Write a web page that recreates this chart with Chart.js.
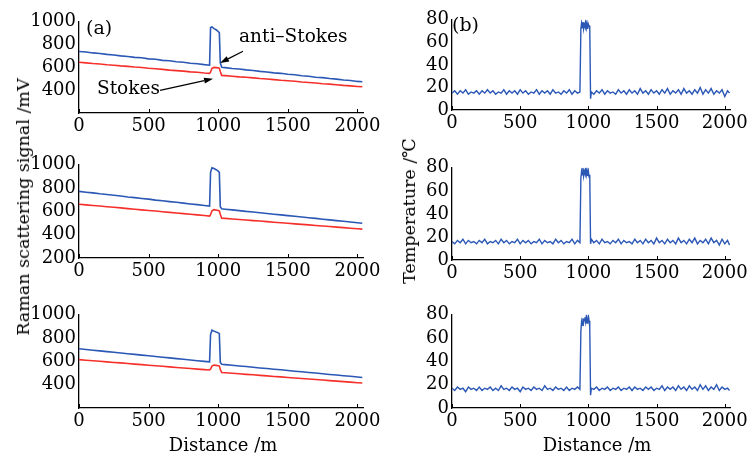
<!DOCTYPE html>
<html>
<head>
<meta charset="utf-8">
<script src="https://cdn.jsdelivr.net/npm/chart.js@4/dist/chart.umd.min.js"></script>
<style>
  html, body { margin: 0; padding: 0; background: #fff; }
  #wrap { position: relative; width: 751px; height: 456px; overflow: hidden; }
  canvas { position: absolute; }
  .lbl { position: absolute; font-family: "DejaVu Serif", serif; font-size: 18px; line-height: 18px; color: #000; white-space: nowrap; }
  .rot { transform: translate(-50%, -50%) rotate(-90deg); }
  .ctr { transform: translate(-50%, -50%); }
</style>
</head>
<body>
<div id="wrap">
  <canvas id="a1" width="385" height="135" style="left:0;top:8px"></canvas>
  <canvas id="a2" width="385" height="137" style="left:0;top:151px"></canvas>
  <canvas id="a3" width="385" height="137" style="left:0;top:301px"></canvas>
  <canvas id="b1" width="371" height="134" style="left:380px;top:6px"></canvas>
  <canvas id="b2" width="371" height="136" style="left:380px;top:154px"></canvas>
  <canvas id="b3" width="371" height="137" style="left:380px;top:301px"></canvas>

  <div class="lbl rot" style="left:23px;top:207px;font-size:17.5px">Raman scattering signal /mV</div>
  <div class="lbl rot" style="left:409px;top:211px;font-size:17.5px">Temperature /℃</div>
  <div class="lbl ctr" style="left:223px;top:445px">Distance /m</div>
  <div class="lbl ctr" style="left:597px;top:445px">Distance /m</div>
  <div class="lbl" style="left:86px;top:18px;font-size:19px">(a)</div>
  <div class="lbl" style="left:452px;top:15px;font-size:19px">(b)</div>
  <div class="lbl" style="left:239px;top:27px;font-size:18.5px">anti–Stokes</div>
  <div class="lbl" style="left:97px;top:79px;font-size:18.5px">Stokes</div>
</div>

<script>
// distance samples (m) for the Raman signal traces
const SIG_X = [0, 50, 100, 150, 200, 250, 300, 350, 400, 450, 500, 550, 600, 650, 700, 750, 800, 850, 900, 938,
  945, 955, 970, 985, 1000, 1008, 1015, 1025,
  1050, 1100, 1150, 1200, 1250, 1300, 1350, 1400, 1450, 1500, 1550, 1600, 1650, 1700, 1750, 1800, 1850, 1900, 1950, 2000, 2035];

// (a) top
const antiStokes1 = [740, 735, 727, 722, 714, 709, 701, 696, 688, 684, 675, 671, 662, 658, 649, 645, 637, 632, 624, 619,
  950, 955, 940, 930, 915, 905, 640, 602,
  598, 591, 586, 578, 573, 565, 560, 552, 548, 540, 535, 527, 523, 514, 510, 502, 497, 489, 485, 477, 474];
const stokes1 = [645, 640, 634, 630, 623, 619, 613, 609, 603, 599, 592, 588, 583, 576, 572, 567, 561, 557, 551, 548,
  558, 592, 600, 598, 596, 592, 565, 530,
  528, 523, 517, 513, 508, 502, 498, 493, 487, 483, 478, 472, 468, 463, 457, 453, 448, 442, 438, 433, 430];

// (a) middle
const antiStokes2 = [772, 765, 759, 751, 745, 738, 732, 724, 718, 711, 705, 697, 691, 684, 678, 671, 664, 658, 651, 645,
  935, 975, 968, 958, 945, 935, 640, 622,
  619, 613, 607, 600, 595, 588, 582, 576, 570, 564, 558, 552, 546, 540, 533, 527, 521, 515, 509, 503, 498];
const stokes2 = [662, 656, 651, 646, 640, 635, 630, 624, 619, 613, 608, 603, 597, 592, 586, 581, 576, 570, 565, 560,
  572, 605, 615, 612, 608, 604, 575, 542,
  540, 535, 531, 526, 521, 517, 512, 507, 503, 498, 493, 489, 484, 479, 475, 470, 465, 461, 456, 451, 448];

// (a) bottom
const antiStokes3 = [708, 702, 696, 690, 684, 678, 672, 666, 660, 654, 648, 642, 636, 630, 624, 618, 612, 606, 600, 596,
  830, 868, 860, 852, 845, 838, 590, 575,
  572, 567, 561, 556, 550, 544, 539, 533, 528, 522, 516, 511, 505, 500, 494, 488, 483, 477, 472, 466, 462];
const stokes3 = [615, 610, 606, 601, 596, 591, 587, 582, 577, 572, 567, 563, 558, 553, 548, 544, 539, 534, 529, 526,
  535, 560, 568, 566, 563, 560, 530, 505,
  503, 498, 494, 489, 485, 480, 476, 471, 467, 462, 458, 453, 449, 444, 440, 435, 431, 426, 422, 417, 414];

// distance samples (m) for the temperature traces
const TEMP_X = [0, 20, 40, 60, 80, 100, 120, 140, 160, 180, 200, 220, 240, 260, 280, 300, 320, 340, 360, 380,
  400, 420, 440, 460, 480, 500, 520, 540, 560, 580, 600, 620, 640, 660, 680, 700, 720, 740, 760, 780,
  800, 820, 840, 860, 880, 900, 920, 938,
  945, 950, 955, 960, 965, 970, 975, 980, 985, 990, 995, 1000, 1005, 1010,
  1016, 1022,
  1040, 1060, 1080, 1100, 1120, 1140, 1160, 1180, 1200, 1220, 1240, 1260, 1280, 1300, 1320, 1340, 1360, 1380, 1400, 1420,
  1440, 1460, 1480, 1500, 1520, 1540, 1560, 1580, 1600, 1620, 1640, 1660, 1680, 1700, 1720, 1740, 1760, 1780, 1800, 1820,
  1840, 1860, 1880, 1900, 1920, 1940, 1960, 1980, 2000, 2020, 2035];

const temp1 = [15, 17, 14, 17, 15, 18, 14, 16, 15, 17, 14, 17, 15, 18, 15, 17, 14, 16, 15, 18,
  14, 17, 15, 17, 14, 18, 15, 17, 14, 16, 15, 18, 14, 17, 15, 17, 14, 18, 15, 16,
  14, 17, 15, 18, 14, 17, 15, 16,
  72, 77, 73, 78, 72, 76, 74, 78, 73, 77, 72, 76, 74, 75,
  10, 16,
  14, 17, 15, 18, 14, 17, 15, 16, 14, 18, 15, 17, 14, 18, 15, 17, 14, 19, 15, 17,
  14, 18, 15, 17, 14, 18, 15, 19, 14, 17, 15, 18, 14, 19, 15, 17, 14, 18, 15, 20,
  14, 18, 15, 19, 14, 17, 15, 18, 12, 17, 15];

const temp2 = [16, 14, 17, 15, 18, 14, 17, 15, 16, 14, 17, 15, 18, 14, 16, 15, 17, 14, 18, 15,
  17, 14, 16, 15, 18, 14, 17, 15, 17, 14, 16, 15, 18, 14, 17, 15, 16, 14, 18, 15,
  17, 14, 16, 15, 18, 14, 17, 15,
  71, 77, 74, 80, 73, 77, 75, 79, 74, 78, 73, 77, 72, 74,
  14, 18,
  15, 17, 14, 18, 15, 16, 14, 17, 15, 18, 14, 17, 15, 16, 14, 18, 15, 17, 14, 18,
  15, 17, 14, 19, 15, 17, 14, 18, 15, 17, 14, 19, 15, 17, 14, 18, 15, 19, 14, 17,
  15, 18, 14, 19, 15, 17, 13, 18, 14, 17, 13];

const temp3 = [17, 15, 18, 16, 17, 14, 18, 16, 17, 15, 18, 15, 17, 16, 18, 15, 17, 15, 19, 16,
  17, 15, 18, 16, 17, 14, 18, 16, 17, 15, 18, 16, 17, 15, 19, 16, 17, 15, 18, 16,
  17, 15, 18, 15, 17, 16, 18, 16,
  66, 74, 71, 77, 73, 76, 78, 74, 79, 73, 76, 79, 75, 70,
  11, 17,
  16, 18, 15, 17, 16, 18, 15, 17, 16, 18, 15, 17, 16, 18, 15, 18, 16, 17, 15, 18,
  16, 18, 15, 17, 16, 19, 15, 18, 16, 18, 15, 19, 16, 18, 15, 19, 16, 18, 15, 20,
  16, 19, 15, 18, 16, 20, 15, 18, 16, 17, 15];

const X_TICKS = [0, 500, 1000, 1500, 2000];
const SIG_TICKS = [200, 400, 600, 800, 1000];
const TEMP_TICKS = [0, 20, 40, 60, 80];

const BLUE = "#2b57b5";
const RED = "#f5302b";

Chart.defaults.font.family = "'DejaVu Serif', serif";
Chart.defaults.font.size = 18;
Chart.defaults.color = "#000";

function pts(xs, ys) {
  return xs.map((x, i) => ({ x: x, y: ys[i] }));
}

const innerTicks = {
  id: "innerTicks",
  afterDatasetsDraw(chart) {
    const { ctx, chartArea } = chart;
    const xs = chart.scales.x;
    ctx.save();
    ctx.strokeStyle = "#000";
    ctx.lineWidth = 1;
    xs.ticks.forEach(t => {
      const px = Math.round(xs.getPixelForValue(t.value)) + 0.5;
      ctx.beginPath();
      ctx.moveTo(px, chartArea.bottom);
      ctx.lineTo(px, chartArea.bottom - 4);
      ctx.stroke();
    });
    ctx.restore();
  }
};

// arrows pointing at the two traces in the top-left panel
const arrows = {
  id: "arrows",
  afterDraw(chart) {
    const { ctx } = chart;
    const xs = chart.scales.x, ys = chart.scales.y;
    const list = [
      [1178, 742, 1013, 639],
      [582, 398, 963, 501]
    ];
    ctx.save();
    ctx.strokeStyle = "#000";
    ctx.fillStyle = "#000";
    ctx.lineWidth = 1.2;
    list.forEach(a => {
      const x0 = xs.getPixelForValue(a[0]), y0 = ys.getPixelForValue(a[1]);
      const x1 = xs.getPixelForValue(a[2]), y1 = ys.getPixelForValue(a[3]);
      const ang = Math.atan2(y1 - y0, x1 - x0);
      const hl = 9, hw = 3;
      const bx = x1 - hl * Math.cos(ang), by = y1 - hl * Math.sin(ang);
      ctx.beginPath();
      ctx.moveTo(x0, y0);
      ctx.lineTo(bx, by);
      ctx.stroke();
      ctx.beginPath();
      ctx.moveTo(x1, y1);
      ctx.lineTo(bx + hw * Math.sin(ang), by - hw * Math.cos(ang));
      ctx.lineTo(bx - hw * Math.sin(ang), by + hw * Math.cos(ang));
      ctx.closePath();
      ctx.fill();
    });
    ctx.restore();
  }
};

function makeChart(id, datasets, yTicks, hideFirst, yWidth, padRight, extra) {
  const plugins = [innerTicks];
  if (extra) plugins.push(extra);
  new Chart(document.getElementById(id), {
    type: "line",
    data: { datasets: datasets },
    options: {
      responsive: false,
      devicePixelRatio: 1,
      animation: false,
      layout: { padding: { top: 12, right: padRight, left: 0, bottom: 0 } },
      plugins: { legend: { display: false }, tooltip: { enabled: false } },
      elements: { point: { radius: 0 }, line: { tension: 0 } },
      scales: {
        x: {
          type: "linear",
          min: 0,
          max: 2040,
          afterBuildTicks: s => { s.ticks = X_TICKS.map(v => ({ value: v })); },
          ticks: { padding: 3, maxRotation: 0, autoSkip: false, includeBounds: false, callback: v => String(v) },
          grid: { display: true, drawOnChartArea: false, drawTicks: false },
          border: { color: "#000", width: 1.3 },
          afterFit: s => { s.height = 30; }
        },
        y: {
          min: yTicks[0],
          max: yTicks[yTicks.length - 1],
          afterBuildTicks: s => { s.ticks = yTicks.map(v => ({ value: v })); },
          ticks: {
            padding: 3,
            autoSkip: false,
            callback: v => (hideFirst && v === yTicks[0]) ? "" : String(v)
          },
          grid: { display: true, drawOnChartArea: false, drawTicks: false },
          border: { color: "#000", width: 1.3 },
          afterFit: s => { s.width = yWidth; }
        }
      }
    },
    plugins: plugins
  });
}

function sigSets(anti, stokes) {
  return [
    { data: pts(SIG_X, anti), borderColor: BLUE, borderWidth: 1.6 },
    { data: pts(SIG_X, stokes), borderColor: RED, borderWidth: 1.6 }
  ];
}
function tempSet(t) {
  return [{ data: pts(TEMP_X, t), borderColor: BLUE, borderWidth: 1.4 }];
}

makeChart("a1", sigSets(antiStokes1, stokes1), SIG_TICKS, true, 79, 22, arrows);
makeChart("a2", sigSets(antiStokes2, stokes2), SIG_TICKS, false, 79, 22);
makeChart("a3", sigSets(antiStokes3, stokes3), SIG_TICKS, true, 79, 22);
makeChart("b1", tempSet(temp1), TEMP_TICKS, false, 72, 17);
makeChart("b2", tempSet(temp2), TEMP_TICKS, false, 72, 17);
makeChart("b3", tempSet(temp3), TEMP_TICKS, false, 72, 17);
</script>
</body>
</html>
